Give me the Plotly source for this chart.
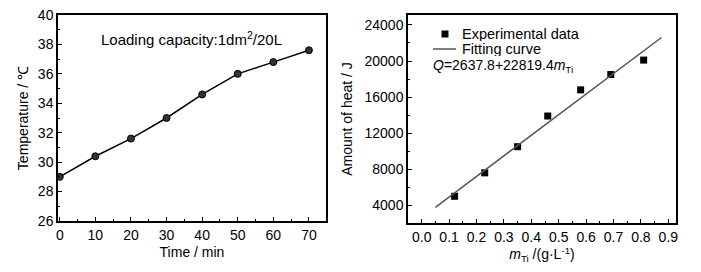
import plotly.graph_objects as go

# Left panel data
time_min = [0, 10, 20, 30, 40, 50, 60, 70]
temperature = [29.0, 30.4, 31.6, 33.0, 34.6, 36.0, 36.8, 37.6]

# Right panel data
m_ti = [0.12, 0.23, 0.35, 0.46, 0.58, 0.69, 0.81]
heat = [5000, 7600, 10500, 13900, 16800, 18500, 20100]

# Fitting curve Q = a + b*m
fit_a = 2637.8
fit_b = 22819.4
fit_x = [0.05, 0.875]
fit_y = [fit_a + fit_b * x for x in fit_x]

x1_ticks = [0, 10, 20, 30, 40, 50, 60, 70]
y1_ticks = [26, 28, 30, 32, 34, 36, 38, 40]
x2_ticks = [0.0, 0.1, 0.2, 0.3, 0.4, 0.5, 0.6, 0.7, 0.8, 0.9]
x2_labels = ["0.0", "0.1", "0.2", "0.3", "0.4", "0.5", "0.6", "0.7", "0.8", "0.9"]
y2_ticks = [4000, 8000, 12000, 16000, 20000, 24000]
y2_labels = ["4000", "8000", "12000", "16000", "20000", "24000"]

FONT = "Liberation Sans, Arial, sans-serif"
OFF = 8            # default page body margin
W, H = 701 - OFF, 272 - OFF

def px(x):
    return (x - OFF) / W

def py(y):
    return 1 - (y - OFF) / H

fig = go.Figure()

fig.add_trace(go.Scatter(
    x=time_min, y=temperature, mode="lines+markers",
    line=dict(color="black", width=1.5),
    marker=dict(symbol="circle", size=7, color="#333", line=dict(color="black", width=1)),
    showlegend=False, xaxis="x", yaxis="y",
))

fig.add_trace(go.Scatter(
    x=m_ti, y=heat, mode="markers", name="Experimental data",
    marker=dict(symbol="square", size=7, color="black"),
    showlegend=False, xaxis="x2", yaxis="y2",
))
fig.add_trace(go.Scatter(
    x=fit_x, y=fit_y, mode="lines", name="Fitting curve",
    line=dict(color="#555555", width=1.5),
    showlegend=False, xaxis="x2", yaxis="y2",
))

axis_common = dict(
    showline=True, linecolor="black", linewidth=1.5, mirror=True,
    ticks="inside", ticklen=4, tickwidth=1, tickcolor="black",
    showgrid=False, zeroline=False, automargin=False,
    ticklabeloverflow="allow",
    tickfont=dict(family=FONT, size=14, color="black"),
    title_font=dict(family=FONT, size=14, color="black"),
)
minor_common = dict(ticks="inside", ticklen=2.5, tickcolor="black", showgrid=False)

# Legend drawn as decoration (symbol samples + labels)
legend_shapes = [
    dict(type="rect", xref="paper", yref="paper",
         x0=px(441.5), x1=px(448.5), y0=py(37.5), y1=py(30.5),
         fillcolor="black", line=dict(width=0)),
    dict(type="line", xref="paper", yref="paper",
         x0=px(433), x1=px(456), y0=py(49), y1=py(49),
         line=dict(color="#555555", width=1.5)),
]

def note(text, x, y, xanchor="left", size=15, height=None):
    d = dict(text=text, xref="paper", yref="paper", x=px(x), y=py(y),
             xanchor=xanchor, yanchor="middle", showarrow=False,
             borderpad=0, font=dict(family=FONT, size=size, color="black"))
    if height is not None:
        d["height"] = height
    return d

fig.update_layout(
    width=W, height=H,
    margin=dict(l=0, r=0, t=0, b=0),
    paper_bgcolor="white", plot_bgcolor="white",
    font=dict(family=FONT, size=14, color="black"),
    showlegend=False,
    xaxis=dict(domain=[px(58), px(326)], range=[-0.5, 74.8],
               tickvals=x1_ticks,
               minor=dict(dtick=5, tick0=0, **minor_common),
               title=dict(text="Time / min", standoff=6), anchor="y", **axis_common),
    yaxis=dict(domain=[py(221), py(15)], range=[26, 40], tickvals=y1_ticks,
               minor=dict(dtick=1, **minor_common),
               title=dict(text="Temperature / ℃", standoff=6), anchor="x", **axis_common),
    xaxis2=dict(domain=[px(408), px(676)], range=[-0.05, 0.928],
                tickvals=x2_ticks, ticktext=x2_labels,
                minor=dict(dtick=0.05, tick0=0, **minor_common),
                title=dict(text="<i>m</i><sub>Ti</sub> /(g·L<sup>-1</sup>)", standoff=6),
                anchor="y2", **axis_common),
    yaxis2=dict(domain=[py(223), py(15)], range=[2040, 25100],
                tickvals=y2_ticks, ticktext=y2_labels,
                minor=dict(dtick=2000, tick0=0, **minor_common),
                title=dict(text="Amount of heat / J", standoff=9),
                anchor="x2", **axis_common),
    shapes=legend_shapes,
    annotations=[
        note("Loading capacity:1dm<sup>2</sup>/20L", 191, 38, xanchor="center"),
        note("Experimental data", 461, 34, size=14.5, height=14),
        note("Fitting curve", 461, 49, size=14.5, height=14),
        note("<i>Q</i>=2637.8+22819.4<i>m</i><sub>Ti</sub>", 432, 66, size=14, height=14),
    ],
)

fig.write_html("out.html", config={"displayModeBar": False})
